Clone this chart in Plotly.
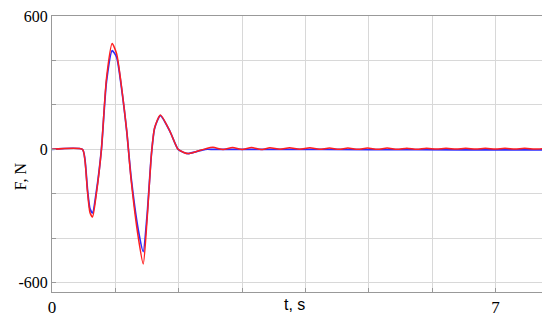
import plotly.graph_objects as go

# main transient
t_main = [0, 0.48, 0.52, 0.56, 0.60, 0.64, 0.70, 0.78, 0.86, 0.95, 1.02, 1.10, 1.18, 1.25,
          1.36, 1.44, 1.50, 1.57, 1.62, 1.71, 1.86, 1.99, 2.08, 2.15, 2.28, 2.42]
f_red = [0, 0, -50, -190, -285, -304, -200, 0, 320, 476, 430, 276, 82, -140,
         -393, -516, -319, -20, 97, 154, 82, 0, -14, -19, -10, 2]
f_blue = [0, 0, -45, -180, -268, -286, -190, 0, 305, 444, 415, 270, 80, -130,
          -360, -460, -300, -20, 95, 152, 82, 0, -14, -19, -10, 0]

# residual ripple of the red curve (peaks and troughs)
t_tail = [2.54, 2.70, 2.85, 3.00, 3.15, 3.30, 3.44, 3.60, 3.75, 3.91, 4.07, 4.22, 4.38, 4.53,
          4.67, 4.83, 4.98, 5.14, 5.29, 5.45, 5.60, 5.76, 5.91, 6.07, 6.22, 6.38, 6.53, 6.69,
          6.84, 7.00, 7.15, 7.31, 7.46, 7.62, 7.75]
f_red_tail = [9, -1, 8, -1, 8, -1, 7, 0, 7, 0, 7, 0, 6, 0,
              6, 0, 6, 0, 6, 0, 5, 0, 5, 1, 5, 1, 5, 1,
              5, 1, 5, 1, 5, 1, 3]
t_blue_tail = [2.55, 3.5, 5.0, 6.5, 7.75]
f_blue_tail = [0, 0, -1, -2, -2]

fig = go.Figure()
fig.add_trace(go.Scatter(x=t_main + t_blue_tail, y=f_blue + f_blue_tail, mode='lines',
                         line=dict(color='#2b2bff', width=1.7, shape='spline', smoothing=0.6)))
fig.add_trace(go.Scatter(x=t_main + t_tail, y=f_red + f_red_tail, mode='lines',
                         line=dict(color='#ff1f1f', width=1.5, shape='spline', smoothing=0.6)))

serif = 'Liberation Serif, Times New Roman, serif'
# page body adds an 8px margin, so the figure is 8px smaller on each side
fig.update_layout(
    width=542, height=309,
    margin=dict(l=44, r=7, t=8, b=25),
    paper_bgcolor='white', plot_bgcolor='white',
    showlegend=False,
    font=dict(family=serif, size=16, color='black'),
    xaxis=dict(
        range=[0, 7.75], tickvals=[0, 1, 2, 3, 4, 5, 6, 7],
        ticktext=['0', '', '', '', '', '', '', '7'],
        showgrid=True, gridcolor='#d8d8d8', gridwidth=1, zeroline=False,
        showline=True, linecolor='#999999', linewidth=1, mirror=True,
        ticks='inside', ticklen=4, tickcolor='#999999',
        tickfont=dict(family=serif, size=17), automargin=False,
        ticklabeloverflow='allow',
    ),
    yaxis=dict(
        range=[-642, 600], tickvals=[-600, -400, -200, 0, 200, 400, 600],
        ticktext=['-600', '', '', '0', '', '', '600'],
        showgrid=True, gridcolor='#d8d8d8', gridwidth=1, zeroline=False,
        showline=True, linecolor='#999999', linewidth=1, mirror=True,
        ticks='inside', ticklen=4, tickcolor='#999999',
        tickfont=dict(family=serif, size=16), automargin=False,
        ticklabeloverflow='allow',
    ),
    annotations=[
        dict(text='t, s', x=3.83, y=0, xref='x', yref='paper',
             yanchor='top', yshift=-2, showarrow=False,
             font=dict(family='Liberation Sans, Arial, sans-serif', size=16)),
        dict(text='F, N', x=-0.065, y=0.42, xref='paper', yref='paper',
             textangle=-90, showarrow=False, xanchor='center', yanchor='middle',
             font=dict(family=serif, size=16)),
    ],
)

fig.write_html('out.html')
